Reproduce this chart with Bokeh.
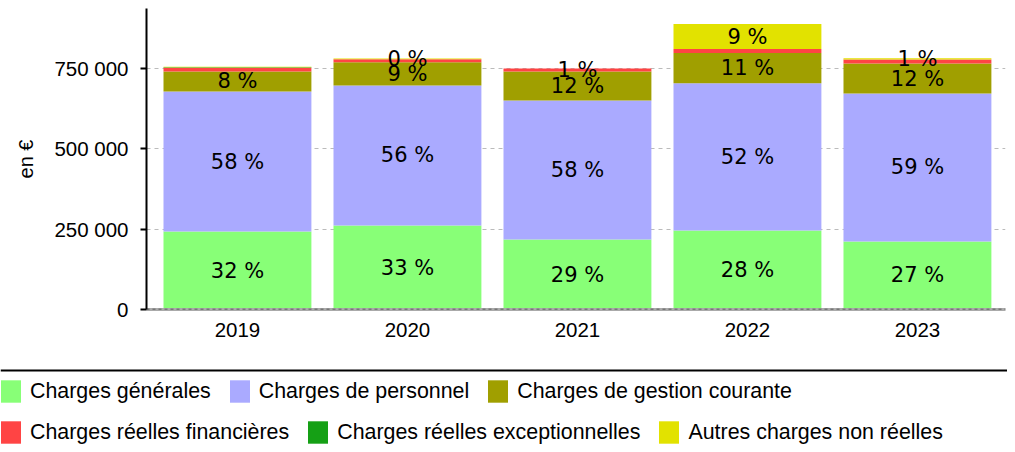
from bokeh.plotting import figure
from bokeh.models import (ColumnDataSource, Range1d, FixedTicker, Span, Legend, LegendItem)
from bokeh.layouts import column
from bokeh.core.properties import value
from bokeh.embed import file_html
from bokeh.resources import INLINE

years = ["2019", "2020", "2021", "2022", "2023"]
xs = [0, 1, 2, 3, 4]

series_names = ["Charges générales", "Charges de personnel", "Charges de gestion courante",
                "Charges réelles financières", "Charges réelles exceptionnelles",
                "Autres charges non réelles"]
colors = ["#88ff77", "#aaaaff", "#a09f00", "#ff4444", "#15a015", "#e2e200"]

generales = [242700, 261400, 217800, 246000, 212000]
personnel = [435700, 435700, 432600, 458000, 460000]
gestion = [62300, 72000, 90300, 94000, 93400]
financieres = [12000, 9300, 9300, 12400, 12400]
exceptionnelles = [1500, 0, 0, 0, 0]
autres = [1500, 3000, 0, 77800, 4000]

# percentage labels shown on the chart (None = not shown)
lab_generales = ["32 %", "33 %", "29 %", "28 %", "27 %"]
lab_personnel = ["58 %", "56 %", "58 %", "52 %", "59 %"]
lab_gestion = ["8 %", "9 %", "12 %", "11 %", "12 %"]
lab_financieres = [None, None, "1 %", None, None]
lab_exceptionnelles = [None, None, None, None, None]
lab_autres = [None, "0 %", None, "9 %", "1 %"]

y_ticks = [0, 250000, 500000, 750000]
y_tick_labels = ["0", "250 000", "500 000", "750 000"]

series = [generales, personnel, gestion, financieres, exceptionnelles, autres]
labels = [lab_generales, lab_personnel, lab_gestion, lab_financieres, lab_exceptionnelles, lab_autres]
keys = ["s%d" % i for i in range(len(series))]

data = {"x": xs}
for k, s in zip(keys, series):
    data[k] = s
source = ColumnDataSource(data)

p = figure(width=1007, height=366, x_range=Range1d(-0.535, 4.518), y_range=Range1d(0, 936700),
           output_backend="svg", toolbar_location=None,
           min_border_left=146, min_border_right=2, min_border_top=8, min_border_bottom=57)
p.frame_align = False
p.outline_line_color = None
p.xgrid.visible = False

renderers = p.vbar_stack(keys, x="x", width=0.87, color=colors, line_color=None, source=source)

# labels
lx, ly, lt = [], [], []
for i in range(len(xs)):
    base = 0
    for s, lab in zip(series, labels):
        v = s[i]
        if lab[i] is not None:
            lx.append(xs[i])
            ly.append(base + v / 2)
            lt.append(lab[i])
        base += v
p.text(x=lx, y=ly, text=lt, text_font=value("DejaVu Sans"), text_font_size="21px",
       text_align="center", text_baseline="middle", text_color="black")

# zero line
p.add_layout(Span(location=0, dimension="width", line_color="#444444", line_width=1.5, line_dash="3 3"))

# y axis
p.yaxis.ticker = FixedTicker(ticks=y_ticks)
p.yaxis.major_label_overrides = {t: l for t, l in zip(y_ticks, y_tick_labels)}
p.yaxis.axis_line_color = "black"
p.yaxis.axis_line_width = 2
p.yaxis.major_tick_line_color = "black"
p.yaxis.major_tick_line_width = 2
p.yaxis.major_tick_out = 6
p.yaxis.major_tick_in = 0
p.yaxis.minor_tick_line_color = None
p.yaxis.major_label_standoff = 12
p.yaxis.major_label_text_font = "Liberation Sans"
p.yaxis.major_label_text_font_size = "20.5px"
p.yaxis.major_label_text_color = "black"
p.yaxis.axis_label = "en €"
p.yaxis.axis_label_text_font = "Liberation Sans"
p.yaxis.axis_label_text_font_size = "20px"
p.yaxis.axis_label_text_font_style = "normal"
p.yaxis.axis_label_text_color = "black"
p.yaxis.axis_label_standoff = 14

p.ygrid.ticker = FixedTicker(ticks=y_ticks)
p.ygrid.grid_line_color = "#bbbbbb"
p.ygrid.grid_line_dash = "4 4"
p.ygrid.grid_line_width = 1

# x axis
p.xaxis.ticker = FixedTicker(ticks=xs)
p.xaxis.major_label_overrides = {x: y for x, y in zip(xs, years)}
p.xaxis.axis_line_color = "#aaaaaa"
p.xaxis.axis_line_width = 3
p.xaxis.major_tick_line_color = None
p.xaxis.minor_tick_line_color = None
p.xaxis.major_label_standoff = 7
p.xaxis.major_label_text_font = "Liberation Sans"
p.xaxis.major_label_text_font_size = "20.5px"
p.xaxis.major_label_text_color = "black"

# legend panel
p2 = figure(width=1007, height=78, x_range=Range1d(0, 1), y_range=Range1d(0, 78),
            output_backend="svg", toolbar_location=None, x_axis_type=None, y_axis_type=None,
            min_border=0, min_border_left=0, min_border_right=0, min_border_top=0, min_border_bottom=0)
p2.frame_align = False
p2.outline_line_color = None
p2.grid.visible = False
p2.add_layout(Span(location=74, dimension="width", line_color="black", line_width=2))

# legend-only renderers (placed outside the visible range)
dummies = []
for c in colors:
    dummies.append(p2.vbar(x=[10], top=[1], width=0.1, fill_color=c, line_color=None))

def make_legend(idx, loc):
    return Legend(items=[LegendItem(label=series_names[i], renderers=[dummies[i]]) for i in idx],
                  orientation="horizontal", location=loc, padding=0, margin=0, spacing=16,
                  glyph_width=25, glyph_height=28, label_height=28, label_standoff=7,
                  label_text_font="Liberation Sans", label_text_font_size="21.4px",
                  label_text_color="black", border_line_color=None, background_fill_alpha=0)

p2.add_layout(make_legend([0, 1, 2], (-2, 39)))
p2.add_layout(make_legend([3, 4, 5], (-2, -2)))

layout = column(p, p2, spacing=0)
open("out.html", "w").write(file_html(layout, INLINE))
